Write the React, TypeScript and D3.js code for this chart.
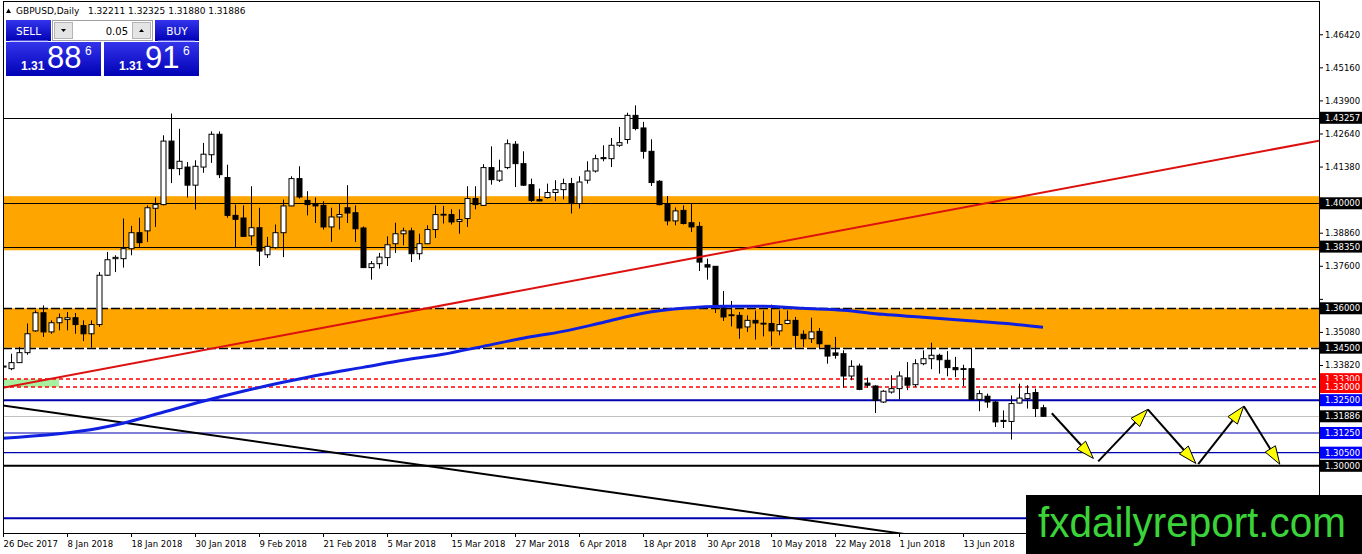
import * as d3 from "d3";

// daily candles, 26 Dec 2017 .. 27 Jun 2018
const opens = [
  1.3376, 1.3370, 1.3393, 1.3431, 1.3514, 1.3583, 1.3510, 1.3545, 1.3557, 1.3564,
  1.3534, 1.3503, 1.3538, 1.3726, 1.3789, 1.3789, 1.3827, 1.3888, 1.3895, 1.3981,
  1.3995, 1.4237, 1.4132, 1.4138, 1.4069, 1.4138, 1.4185, 1.4263, 1.4098, 1.3954,
  1.3944, 1.3876, 1.3907, 1.3804, 1.3831, 1.3888, 1.3990, 1.4094, 1.4011, 1.3999,
  1.3992, 1.3910, 1.3948, 1.3983, 1.3964, 1.3906, 1.3755, 1.3770, 1.3793, 1.3846,
  1.3884, 1.3895, 1.3808, 1.3846, 1.3900, 1.3957, 1.3957, 1.3931, 1.3942, 1.4018,
  1.3992, 1.4136, 1.4088, 1.4136, 1.4225, 1.4151, 1.4071, 1.4014, 1.4022, 1.4041,
  1.4052, 1.4075, 1.3999, 1.4088, 1.4123, 1.4174, 1.4170, 1.4221, 1.4243, 1.4335,
  1.4287, 1.4198, 1.4084, 1.3999, 1.3933, 1.3973, 1.3926, 1.3912, 1.3766, 1.3760,
  1.3602, 1.3575, 1.3573, 1.3529, 1.3554, 1.3543, 1.3542, 1.3514, 1.3542, 1.3554,
  1.3501, 1.3484, 1.3512, 1.3459, 1.3430, 1.3427, 1.3342, 1.3380, 1.3315, 1.3304,
  1.3243, 1.3281, 1.3294, 1.3335, 1.3309, 1.3389, 1.3408, 1.3421, 1.3402, 1.3374,
  1.3370, 1.3370, 1.3253, 1.3265, 1.3243, 1.3173, 1.3169, 1.3239, 1.3256, 1.3279,
  1.32211,
];
const highs = [
  1.3389, 1.3427, 1.3453, 1.3542, 1.3592, 1.3611, 1.3554, 1.3580, 1.3586, 1.3582,
  1.3554, 1.3554, 1.3738, 1.3815, 1.3802, 1.3942, 1.3914, 1.3945, 1.3992, 1.4022,
  1.4259, 1.4342, 1.4284, 1.4157, 1.4164, 1.4230, 1.4274, 1.4274, 1.4147, 1.3995,
  1.3992, 1.4065, 1.3983, 1.3872, 1.3919, 1.4014, 1.4103, 1.4141, 1.4046, 1.4022,
  1.4008, 1.3983, 1.3999, 1.4069, 1.3992, 1.3912, 1.3780, 1.3811, 1.3874, 1.3926,
  1.3907, 1.3907, 1.3884, 1.3916, 1.3992, 1.3990, 1.3977, 1.3977, 1.4065, 1.4065,
  1.4149, 1.4217, 1.4166, 1.4243, 1.4237, 1.4198, 1.4094, 1.4056, 1.4075, 1.4088,
  1.4094, 1.4097, 1.4103, 1.4160, 1.4185, 1.4221, 1.4249, 1.4291, 1.4345, 1.4373,
  1.4310, 1.4244, 1.4088, 1.4028, 1.3984, 1.3992, 1.3999, 1.3929, 1.3789, 1.3760,
  1.3666, 1.3628, 1.3586, 1.3573, 1.3592, 1.3592, 1.3614, 1.3592, 1.3592, 1.3567,
  1.3516, 1.3564, 1.3525, 1.3459, 1.3491, 1.3440, 1.3402, 1.3389, 1.3336, 1.3307,
  1.3288, 1.3345, 1.3360, 1.3395, 1.3406, 1.3440, 1.3469, 1.3427, 1.3437, 1.3415,
  1.3385, 1.3446, 1.3288, 1.3275, 1.3247, 1.3211, 1.3268, 1.3313, 1.3307, 1.3294,
  1.32325,
];
const lows = [
  1.3364, 1.3364, 1.3392, 1.3423, 1.3510, 1.3491, 1.3503, 1.3516, 1.3516, 1.3503,
  1.3475, 1.3450, 1.3529, 1.3723, 1.3738, 1.3755, 1.3802, 1.3834, 1.3853, 1.3910,
  1.3992, 1.4077, 1.4107, 1.4022, 1.3976, 1.4116, 1.4154, 1.4096, 1.3945, 1.3831,
  1.3872, 1.3840, 1.3761, 1.3792, 1.3827, 1.3795, 1.3989, 1.4018, 1.3954, 1.3925,
  1.3900, 1.3853, 1.3900, 1.3925, 1.3853, 1.3754, 1.3709, 1.3751, 1.3761, 1.3811,
  1.3840, 1.3776, 1.3785, 1.3844, 1.3868, 1.3923, 1.3919, 1.3884, 1.3910, 1.3977,
  1.3990, 1.4071, 1.4081, 1.4130, 1.4062, 1.4066, 1.4005, 1.4008, 1.4018, 1.4008,
  1.4015, 1.3961, 1.3980, 1.4075, 1.4117, 1.4160, 1.4138, 1.4215, 1.4227, 1.4278,
  1.4170, 1.4066, 1.3992, 1.3916, 1.3916, 1.3919, 1.3891, 1.3742, 1.3709, 1.3582,
  1.3552, 1.3531, 1.3484, 1.3510, 1.3481, 1.3493, 1.3456, 1.3497, 1.3539, 1.3449,
  1.3453, 1.3468, 1.3449, 1.3389, 1.3408, 1.3298, 1.3326, 1.3288, 1.3298, 1.3201,
  1.3239, 1.3275, 1.3253, 1.3288, 1.3300, 1.3383, 1.3368, 1.3351, 1.3341, 1.3338,
  1.3304, 1.3252, 1.3208, 1.3221, 1.3148, 1.3144, 1.3100, 1.3237, 1.3218, 1.3186,
  1.3188,
];
const closes = [
  1.3380, 1.3393, 1.3431, 1.3503, 1.3583, 1.3510, 1.3545, 1.3564, 1.3564, 1.3538,
  1.3503, 1.3538, 1.3726, 1.3785, 1.3794, 1.3827, 1.3888, 1.3850, 1.3983, 1.3995,
  1.4237, 1.4132, 1.4160, 1.4069, 1.4141, 1.4187, 1.4263, 1.4109, 1.3954, 1.3939,
  1.3874, 1.3907, 1.3818, 1.3836, 1.3888, 1.3990, 1.4094, 1.4024, 1.3995, 1.3990,
  1.3910, 1.3948, 1.3957, 1.3963, 1.3903, 1.3755, 1.3770, 1.3795, 1.3842, 1.3884,
  1.3895, 1.3808, 1.3846, 1.3900, 1.3957, 1.3958, 1.3929, 1.3938, 1.4018, 1.3995,
  1.4136, 1.4090, 1.4123, 1.4227, 1.4151, 1.4069, 1.4011, 1.4009, 1.4041, 1.4052,
  1.4075, 1.3999, 1.4081, 1.4123, 1.4170, 1.4170, 1.4221, 1.4231, 1.4335, 1.4285,
  1.4198, 1.4079, 1.3995, 1.3933, 1.3971, 1.3923, 1.3910, 1.3776, 1.3757, 1.3611,
  1.3567, 1.3572, 1.3525, 1.3554, 1.3544, 1.3540, 1.3514, 1.3538, 1.3554, 1.3497,
  1.3484, 1.3510, 1.3465, 1.3418, 1.3421, 1.3342, 1.3379, 1.3291, 1.3307, 1.3249,
  1.3284, 1.3294, 1.3342, 1.3307, 1.3389, 1.3408, 1.3421, 1.3404, 1.3374, 1.3366,
  1.3367, 1.3253, 1.3275, 1.3243, 1.3167, 1.3169, 1.3237, 1.3258, 1.3275, 1.3218,
  1.31886,
];

const dateLabels = [
  "26 Dec 2017", "8 Jan 2018", "18 Jan 2018", "30 Jan 2018", "9 Feb 2018", "21 Feb 2018",
  "5 Mar 2018", "15 Mar 2018", "27 Mar 2018", "6 Apr 2018", "18 Apr 2018", "30 Apr 2018",
  "10 May 2018", "22 May 2018", "1 Jun 2018", "13 Jun 2018",
];
const barsPerLabel = 8;
const priceTicks = [
  1.4642, 1.4516, 1.439, 1.4264, 1.4138, 1.4012, 1.3886, 1.376, 1.3634, 1.3508,
  1.3382, 1.3256, 1.313, 1.3004,
];

// 200 day moving average, read at a few bars
const maBars = [0, 12, 15, 20, 25, 30, 35, 40, 45, 50, 55, 60, 65, 70, 75, 80, 85, 90, 95, 100, 105, 110, 115, 120, 125, 130];
const maValues = [
  1.3105, 1.3143, 1.3162, 1.3204, 1.3246, 1.3284, 1.3318, 1.3349, 1.3375, 1.3402,
  1.3425, 1.3455, 1.3486, 1.3512, 1.3546, 1.3581, 1.3600, 1.3608, 1.3608, 1.3600,
  1.3593, 1.3577, 1.3566, 1.3554, 1.3543, 1.3528,
];

// drawn objects
const upperZone = [1.3821, 1.4027];
const lowerZone = [1.345, 1.36];
const blackLevels = [1.43257, 1.4, 1.3835];
const dashedLevels = [1.36, 1.345];
const redLevels = [1.333, 1.33];
const blueLevels = [1.325, 1.3125, 1.305];
const supportLevel = 1.3;
const lowLevel = 1.28;
const bidPrice = 1.31886;
const greenBox = [0, 7, 1.33, 1.333];
const redTrend = [[0, 1.3297], [123, 1.4001]];
const blackTrend = [[0, 1.323], [112, 1.2743]];
const zigzag = [
  [131.1, 1.32, 136.3, 1.3028],
  [136.9, 1.3017, 143.1, 1.3215],
  [143.1, 1.3215, 149.1, 1.3009],
  [149.4, 1.3006, 155.1, 1.3227],
  [155.1, 1.3227, 159.6, 1.3006],
];

const axisLabels = [
  { v: 1.43257, bg: "#000" },
  { v: 1.4, bg: "#000" },
  { v: 1.3835, bg: "#000" },
  { v: 1.36, bg: "#000" },
  { v: 1.345, bg: "#000" },
  { v: 1.333, bg: "#f00" },
  { v: 1.33, bg: "#f00" },
  { v: 1.325, bg: "#0000ff" },
  { v: 1.31886, bg: "#000" },
  { v: 1.3125, bg: "#0000ff" },
  { v: 1.305, bg: "#0000ff" },
  { v: 1.3, bg: "#000" },
];

const W = 1362;
const H = 554;
const left = 3;
const right = 1319;
const top = 1;
const bottom = 533;
const axisFont = "'DejaVu Sans', Tahoma, sans-serif";

export default function App() {
  const x = d3.scaleLinear([0, 164.5], [left, right]);
  const y = d3.scaleLinear([1.2744, 1.4763], [bottom, 3]);
  const lastIndex = x.invert(right);

  const ray = (pts: number[][]) => {
    const [[i0, p0], [i1, p1]] = pts;
    const slope = (p1 - p0) / (i1 - i0);
    return { x1: x(i0), y1: y(p0), x2: x(lastIndex), y2: y(p0 + slope * (lastIndex - i0)) };
  };
  const red = ray(redTrend);
  const blk = ray(blackTrend);

  const maLine = d3
    .line<number>((_, i) => x(maBars[i]), (d) => y(d))
    .curve(d3.curveMonotoneX);

  const fmt = d3.format(".5f");
  const hline = (p: number) => Math.round(y(p)) + 0.5;

  // the boxed labels hide the plain ticks they sit on
  const visibleTicks = priceTicks.filter((p) => axisLabels.every((d) => Math.abs(y(d.v) - y(p)) > 9));

  return (
    <div>
      <style>{"body{margin:0;background:#fff}"}</style>
      <svg width={W} height={H} style={{ display: "block" }}>
        <defs>
          <clipPath id="plot">
            <rect x={left} y={top} width={right - left} height={bottom - top} />
          </clipPath>
          <linearGradient id="blueBtn" x1="0" y1="0" x2="0" y2="1">
            <stop offset="0" stopColor="#3434ec" />
            <stop offset="1" stopColor="#0000b4" />
          </linearGradient>
        </defs>
        <rect width={W} height={H} fill="#fff" />

        <g clipPath="url(#plot)">
          {/* zones */}
          <rect x={left} width={right - left} y={y(upperZone[1])} height={y(upperZone[0]) - y(upperZone[1])} fill="#ffa500" />
          <rect x={left} width={right - left} y={y(lowerZone[1])} height={y(lowerZone[0]) - y(lowerZone[1])} fill="#ffa500" />
          <rect
            x={x(greenBox[0])}
            width={x(greenBox[1]) - x(greenBox[0])}
            y={y(greenBox[3])}
            height={y(greenBox[2]) - y(greenBox[3])}
            fill="#a8f0a0"
          />

          {/* horizontal levels */}
          {blackLevels.map((p) => (
            <line key={p} x1={left} x2={right} y1={hline(p)} y2={hline(p)} stroke="#000" strokeWidth={1} />
          ))}
          {dashedLevels.map((p) => (
            <line key={p} x1={left} x2={right} y1={hline(p)} y2={hline(p)} stroke="#000" strokeWidth={1.5} strokeDasharray="9,3" />
          ))}
          {redLevels.map((p) => (
            <line key={p} x1={left} x2={right} y1={Math.round(y(p))} y2={Math.round(y(p))} stroke="#ff0000" strokeWidth={1.4} strokeDasharray="4,3" />
          ))}
          <line x1={left} x2={right} y1={hline(bidPrice)} y2={hline(bidPrice)} stroke="#c0c0c0" />
          {blueLevels.map((p, i) => (
            <line key={p} x1={left} x2={right} y1={y(p)} y2={y(p)} stroke="#0000b0" strokeWidth={i === 0 ? 2 : 1.2} />
          ))}
          <line x1={left} x2={right} y1={y(supportLevel)} y2={y(supportLevel)} stroke="#000" strokeWidth={2} />
          <line x1={left} x2={right} y1={y(lowLevel)} y2={y(lowLevel)} stroke="#0000b0" strokeWidth={2} />

          {/* candles */}
          {opens.map((o, i) => {
            const c = closes[i];
            const cx = Math.round(x(i)) + 0.5;
            const t = y(Math.max(o, c));
            const b = y(Math.min(o, c));
            const bull = c >= o;
            return (
              <g key={i}>
                <line x1={cx} x2={cx} y1={y(highs[i])} y2={y(lows[i])} stroke="#000" />
                <rect x={cx - 2.5} y={t} width={5} height={Math.max(b - t, 0.8)} fill={bull ? "#fff" : "#000"} stroke="#000" />
              </g>
            );
          })}

          {/* trend lines and MA */}
          <line {...blk} stroke="#000" strokeWidth={2} />
          <line {...red} stroke="#dd1010" strokeWidth={2} />
          <path d={maLine(maValues) ?? ""} fill="none" stroke="#1020e0" strokeWidth={3} />

          {/* forecast zigzag */}
          {zigzag.map(([i0, p0, i1, p1], k) => {
            const x0 = x(i0), y0 = y(p0), x2 = x(i1), y2 = y(p1);
            const len = Math.hypot(x2 - x0, y2 - y0);
            const ux = (x2 - x0) / len, uy = (y2 - y0) / len;
            const bx = x2 - ux * 18, by = y2 - uy * 18;
            const head = [
              [x2, y2],
              [bx - uy * 6, by + ux * 6],
              [bx + uy * 6, by - ux * 6],
            ];
            return (
              <g key={k}>
                <line x1={x0} y1={y0} x2={bx} y2={by} stroke="#000" strokeWidth={2} />
                <polygon points={head.map((q) => q.join(",")).join(" ")} fill="#ffff00" stroke="#000" strokeWidth={1} />
              </g>
            );
          })}
        </g>

        {/* frame */}
        <rect x={left + 0.5} y={top + 0.5} width={right - left} height={bottom - top} fill="none" stroke="#000" />

        {/* price axis */}
        {priceTicks.map((p) => (
          <line key={p} x1={right} x2={right + 4} y1={y(p)} y2={y(p)} stroke="#000" />
        ))}
        {visibleTicks.map((p) => (
          <text key={p} x={right + 6} y={y(p)} dy="0.35em" fontSize={8.5} fontFamily={axisFont} fill="#000">
            {fmt(p)}
          </text>
        ))}
        {axisLabels.map((d) => (
          <g key={d.v} transform={`translate(${right + 1},${y(d.v)})`}>
            <rect x={0} y={-6} width={42} height={12} fill={d.bg} />
            <text x={5} dy="0.35em" fontSize={8.5} fontFamily={axisFont} fill="#fff">
              {fmt(d.v)}
            </text>
          </g>
        ))}

        {/* time axis */}
        {dateLabels.map((s, k) => {
          const bx = Math.round(x(k * barsPerLabel)) + 0.5;
          return (
            <g key={s}>
              <line x1={bx} x2={bx} y1={bottom} y2={bottom + 4} stroke="#000" />
              <text x={bx} y={547} fontSize={8.5} fontFamily={axisFont} fill="#000">
                {s}
              </text>
            </g>
          );
        })}

        {/* header */}
        <polygon points="6,13 11,13 8.5,8.5" fill="#000" />
        <text x={16} y={14} fontSize={9} fontFamily={axisFont} fill="#000">
          GBPUSD,Daily
        </text>
        <text x={88} y={14} fontSize={9} fontFamily={axisFont} fill="#000">
          {[opens[130], highs[130], lows[130], closes[130]].map(fmt).join(" ")}
        </text>

        {/* one click trading panel */}
        <rect x={6} y={20} width={45} height={21} fill="url(#blueBtn)" />
        <text x={28.5} y={35} textAnchor="middle" fontSize={10.5} fontFamily={axisFont} fill="#fff">
          SELL
        </text>
        <line x1={10} x2={48} y1={41} y2={41} stroke="#9a9aff" />
        <rect x={52.5} y={20.5} width={100} height={20} fill="#fff" stroke="#a0a0a0" />
        <rect x={54.5} y={22.5} width={18} height={16} fill="#e4e4e4" stroke="#b4b4b4" />
        <polygon points="61,29 66,29 63.5,32" fill="#000" />
        <text x={128} y={35} textAnchor="end" fontSize={10} fontFamily={axisFont} fill="#000">
          0.05
        </text>
        <rect x={132.5} y={22.5} width={18} height={16} fill="#e4e4e4" stroke="#b4b4b4" />
        <polygon points="139,32 144,32 141.5,29" fill="#000" />
        <rect x={155} y={20} width={44} height={21} fill="url(#blueBtn)" />
        <text x={177} y={35} textAnchor="middle" fontSize={10.5} fontFamily={axisFont} fill="#fff">
          BUY
        </text>
        <line x1={158} x2={195} y1={41} y2={41} stroke="#9a9aff" />

        <rect x={6} y={42} width={95} height={34} fill="url(#blueBtn)" />
        <text x={21} y={70} fontSize={12} fontWeight="bold" fontFamily="'Liberation Sans', Arial, sans-serif" fill="#fff">
          1.31
        </text>
        <text x={47} y={68} fontSize={31} fontFamily="'Liberation Sans', Arial, sans-serif" fill="#fff">
          88
        </text>
        <text x={85} y={55} fontSize={12} fontFamily="'Liberation Sans', Arial, sans-serif" fill="#fff">
          6
        </text>
        <rect x={104} y={42} width={95} height={34} fill="url(#blueBtn)" />
        <text x={119} y={70} fontSize={12} fontWeight="bold" fontFamily="'Liberation Sans', Arial, sans-serif" fill="#fff">
          1.31
        </text>
        <text x={145} y={68} fontSize={31} fontFamily="'Liberation Sans', Arial, sans-serif" fill="#fff">
          91
        </text>
        <text x={183} y={55} fontSize={12} fontFamily="'Liberation Sans', Arial, sans-serif" fill="#fff">
          6
        </text>

        {/* watermark */}
        <rect x={1026} y={495} width={W - 1026} height={H - 495} fill="#000" />
        <text
          x={1038}
          y={537}
          fontSize={42}
          fontFamily="'Liberation Sans', Arial, sans-serif"
          fill="#3ad43a"
          textLength={308}
          lengthAdjust="spacingAndGlyphs"
        >
          fxdailyreport.com
        </text>
      </svg>
    </div>
  );
}
